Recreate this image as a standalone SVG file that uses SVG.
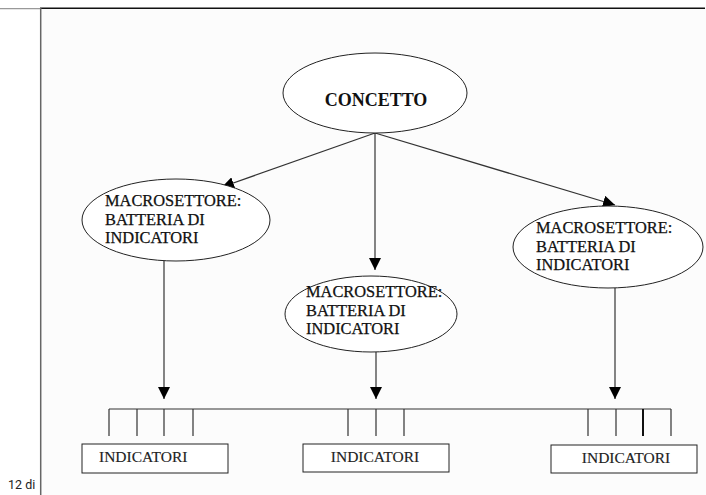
<svg xmlns="http://www.w3.org/2000/svg" width="706" height="495" viewBox="0 0 706 495">
<style>
.ell{fill:#fff;stroke:#222;stroke-width:1}
.t{font-family:"Liberation Serif","Times New Roman",serif;font-size:16.4px;fill:#111;stroke:#111;stroke-width:0.25}
.tb{font-family:"Liberation Serif","Times New Roman",serif;font-size:18px;font-weight:bold;fill:#111}
.ti{font-family:"Liberation Serif","Times New Roman",serif;font-size:15.5px;fill:#222;stroke:#222;stroke-width:0.15}
.box{fill:#fff;stroke:#222;stroke-width:1}
.ln{stroke:#333;stroke-width:1.2;fill:none}
</style>
<defs>
<marker id="ah" viewBox="0 0 12 12" refX="12" refY="6" markerWidth="12" markerHeight="12" markerUnits="userSpaceOnUse" orient="auto">
<path d="M0,0 L12,6 L0,12 Z" fill="#000"/>
</marker>
</defs>
<rect width="706" height="495" fill="#fff"/>
<text x="8" y="489" font-family="Roboto, sans-serif" font-size="12.5" fill="#222">12 di</text>
<rect x="40" y="8" width="666" height="487" fill="#fcfcfc"/>
<line x1="0" y1="8.7" x2="40" y2="8.7" stroke="#999" stroke-width="1.2"/>
<line x1="40" y1="8.3" x2="705" y2="8.3" stroke="#111" stroke-width="1.5"/>
<line x1="40.7" y1="8" x2="40.7" y2="495" stroke="#666" stroke-width="1.5"/>
<g id="connectors">
<line class="ln" x1="375" y1="133" x2="222" y2="187" marker-end="url(#ah)"/>
<line class="ln" x1="375" y1="133" x2="375" y2="270" marker-end="url(#ah)"/>
<line class="ln" x1="375" y1="133" x2="615" y2="205" marker-end="url(#ah)"/>
<line class="ln" x1="164" y1="261" x2="164" y2="399" marker-end="url(#ah)"/>
<line class="ln" x1="376" y1="352" x2="376" y2="399" marker-end="url(#ah)"/>
<line class="ln" x1="615" y1="288" x2="615" y2="399" marker-end="url(#ah)"/>
<line class="ln" x1="109" y1="409" x2="671" y2="409"/>
<path class="ln" d="M109,409V436M137,409V436M164,409V436M193,409V436M348,409V436M376,409V436M404,409V436M588,409V436M616,409V436M671,409V436"/>
<line x1="643" y1="409" x2="643" y2="436" stroke="#111" stroke-width="2"/>
</g>
<g id="concetto">
<ellipse class="ell" cx="375" cy="93" rx="92" ry="40"/>
<text class="tb" x="376" y="106" text-anchor="middle">CONCETTO</text>
</g>
<g id="macro1">
<ellipse class="ell" cx="176" cy="220" rx="94" ry="41"/>
<text class="t" x="105" y="206">MACROSETTORE:</text>
<text class="t" x="105" y="224.5">BATTERIA DI</text>
<text class="t" x="105" y="243">INDICATORI</text>
</g>
<g id="macro2">
<ellipse class="ell" cx="371" cy="314" rx="86" ry="38"/>
<text class="t" x="306" y="297">MACROSETTORE:</text>
<text class="t" x="306" y="315.5">BATTERIA DI</text>
<text class="t" x="306" y="334">INDICATORI</text>
</g>
<g id="macro3">
<ellipse class="ell" cx="608" cy="247" rx="95" ry="41"/>
<text class="t" x="536" y="233">MACROSETTORE:</text>
<text class="t" x="536" y="251.5">BATTERIA DI</text>
<text class="t" x="536" y="270">INDICATORI</text>
</g>
<g id="ind1">
<rect class="box" x="82" y="444" width="146" height="29"/>
<text class="ti" x="99" y="462">INDICATORI</text>
</g>
<g id="ind2">
<rect class="box" x="303" y="444" width="146" height="28"/>
<text class="ti" x="375" y="462" text-anchor="middle">INDICATORI</text>
</g>
<g id="ind3">
<rect class="box" x="551" y="445" width="146" height="28"/>
<text class="ti" x="626" y="463" text-anchor="middle">INDICATORI</text>
</g>
</svg>
